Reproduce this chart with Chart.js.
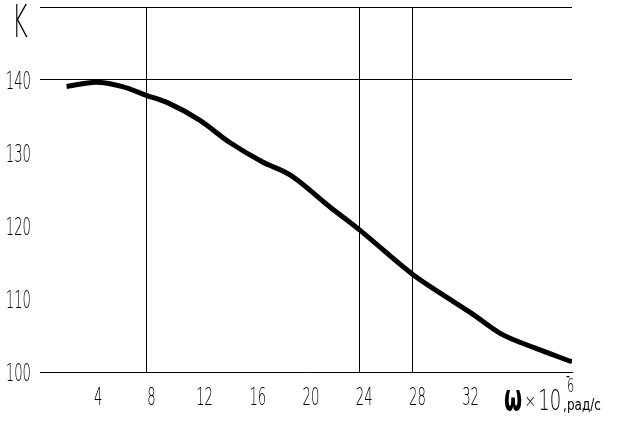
<!DOCTYPE html>
<html>
<head>
<meta charset="utf-8">
<script src="https://cdn.jsdelivr.net/npm/chart.js@4"></script>
<style>
  body { margin: 0; background: #fff; }
</style>
</head>
<body>
<canvas id="chartK" width="630" height="425"></canvas>
<script>
// values
const omega = [2.0, 4.2, 6.2, 8.0, 9.7, 12.0, 14.3, 16.7, 18.8, 21.8, 24.0, 28.0, 30.1, 32.4, 34.6, 37.2, 40.0];
const kValues = [139.1, 139.7, 139.1, 137.9, 136.8, 134.5, 131.4, 128.8, 127.0, 122.6, 119.5, 113.4, 110.8, 108.1, 105.3, 103.3, 101.4];
const xTicks = [4, 8, 12, 16, 20, 24, 28, 32];
const xGridLines = [8, 24, 28];
const yTicks = [100, 110, 120, 130, 140];
const yGridLines = [140, 150];

const fontFamily = '"DejaVu Sans", sans-serif';

// narrow drafting-style text: squeeze the glyphs horizontally
const drawNarrow = (ctx, text, x, y, font, sx, align, baseline) => {
    ctx.save();
    ctx.translate(x, y);
    ctx.scale(sx, 1);
    ctx.font = font;
    ctx.textAlign = align;
    ctx.textBaseline = baseline;
    ctx.fillText(text, 0, 0);
    const w = ctx.measureText(text).width * sx;
    ctx.restore();
    return w;
};

const axisText = {
    id: 'axisText',
    afterDraw(chart) {
        const ctx = chart.ctx;
        const xs = chart.scales.x;
        const ys = chart.scales.y;
        ctx.save();
        ctx.fillStyle = '#000';

        const tickFont = '200 24px ' + fontFamily;
        xTicks.forEach(v => {
            drawNarrow(ctx, String(v), xs.getPixelForValue(v) + 5, 399, tickFont, 0.55, 'center', 'middle');
        });
        yTicks.forEach(v => {
            drawNarrow(ctx, String(v), 31, ys.getPixelForValue(v) + 3, tickFont, 0.55, 'right', 'middle');
        });

        drawNarrow(ctx, 'K', 12, 37, '200 44px ' + fontFamily, 0.55, 'left', 'alphabetic');

        let x = 504;
        x += drawNarrow(ctx, 'ω', x, 410, 'bold 38px ' + fontFamily, 0.55, 'left', 'alphabetic') + 2;
        x += drawNarrow(ctx, '×', x, 407, '200 18px ' + fontFamily, 0.8, 'left', 'alphabetic') + 2;
        x += drawNarrow(ctx, '10', x, 410, '200 29px ' + fontFamily, 0.62, 'left', 'alphabetic') + 2;
        drawNarrow(ctx, '-', x + 3, 381, '16px ' + fontFamily, 0.7, 'left', 'alphabetic');
        drawNarrow(ctx, '6', x + 4, 392, '200 19px ' + fontFamily, 0.6, 'left', 'alphabetic');
        drawNarrow(ctx, ',рад/с', x, 410, '15px ' + fontFamily, 0.8, 'left', 'alphabetic');
        ctx.restore();
    }
};

const ctx = document.getElementById('chartK').getContext('2d');

const chartK = new Chart(ctx, {
    type: 'line',
    data: {
        datasets: [{
            data: omega.map((w, i) => ({ x: w, y: kValues[i] })),
            borderColor: '#000',
            borderWidth: 5,
            pointRadius: 0,
            cubicInterpolationMode: 'monotone',
            fill: false
        }]
    },
    options: {
        responsive: false,
        animation: false,
        devicePixelRatio: 1,
        layout: { padding: { top: 7, right: 58, left: 0, bottom: 0 } },
        plugins: {
            legend: { display: false },
            tooltip: { enabled: false }
        },
        scales: {
            x: {
                type: 'linear',
                min: 0,
                max: 40,
                afterBuildTicks: s => { s.ticks = xTicks.map(v => ({ value: v })); },
                afterFit: s => {
                    s.height = 53;
                    s.paddingLeft = 0;
                    s.paddingRight = 0;
                },
                border: { display: true, color: '#000', width: 1 },
                grid: {
                    drawTicks: false,
                    lineWidth: 1,
                    color: c => xGridLines.includes(c.tick.value) ? '#000' : 'rgba(0,0,0,0)'
                },
                ticks: { display: false }
            },
            y: {
                min: 100,
                max: 150,
                afterBuildTicks: s => { s.ticks = yTicks.concat([150]).map(v => ({ value: v })); },
                afterFit: s => {
                    s.width = 40;
                    s.paddingTop = 0;
                    s.paddingBottom = 0;
                },
                border: { display: false },
                grid: {
                    drawTicks: false,
                    lineWidth: 1,
                    color: c => yGridLines.includes(c.tick.value) ? '#000' : 'rgba(0,0,0,0)'
                },
                ticks: { display: false }
            }
        }
    },
    plugins: [axisText]
});
</script>
</body>
</html>
